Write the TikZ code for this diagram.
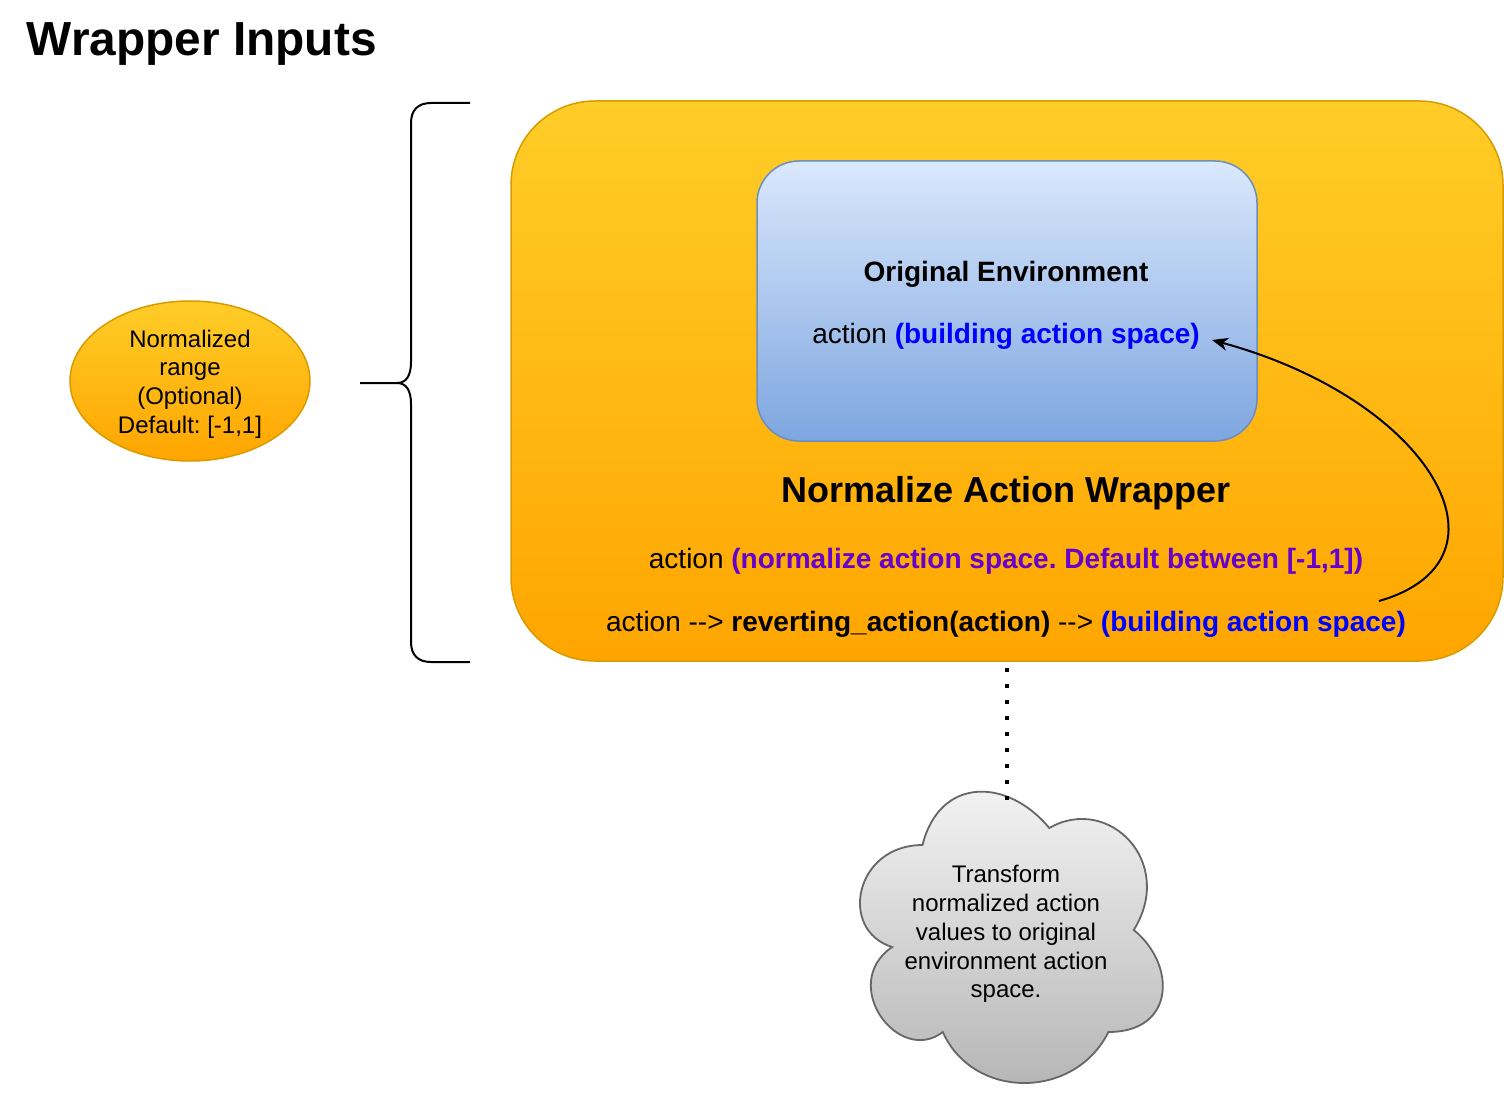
\documentclass[tikz,border=0pt]{standalone}
\usepackage{fontspec}
\setmainfont{Liberation Sans}
\usetikzlibrary{shapes.geometric,arrows.meta}
\definecolor{orTop}{HTML}{FFCD28}
\definecolor{orBot}{HTML}{FFA500}
\definecolor{orLine}{HTML}{D79B00}
\definecolor{blTop}{HTML}{DAE8FC}
\definecolor{blBot}{HTML}{7EA6E0}
\definecolor{blLine}{HTML}{6C8EBF}
\definecolor{grTop}{HTML}{F5F5F5}
\definecolor{grBot}{HTML}{B3B3B3}
\definecolor{grLine}{HTML}{666666}
\definecolor{purp}{HTML}{6600CC}
\definecolor{bluetxt}{HTML}{0000FF}
\frenchspacing
\newcommand{\fsz}[2]{\fontsize{#1}{#2}\selectfont}
\newcommand{\darrow}{-{}-{}>}
\begin{document}
\begin{tikzpicture}[x=1pt,y=-1pt,
  orangefill/.style={draw=orLine, line width=1.5pt, top color=orTop, bottom color=orBot},
  bluefill/.style={draw=blLine, line width=1.5pt, top color=blTop, bottom color=blBot},
  cloudfill/.style={draw=grLine, line width=1.8pt, top color=grTop, bottom color=grBot},
  txt/.style={inner sep=0pt, outer sep=0pt, align=center},
  bigtxt/.style={txt, font=\fsz{28}{33.6}},
  smalltxt/.style={txt, font=\fsz{24}{28.8}},
  bracestyle/.style={line width=2pt, line join=round},
  curvearrow/.style={line width=2pt, -{Stealth[length=16pt,width=13pt,inset=5pt]}},
  dotline/.style={line width=4pt, dash pattern=on 4pt off 12pt}
]
\useasboundingbox (0,0) rectangle (1504,1102);

% title
\node[txt, anchor=base west, font=\fsz{47.8}{57}\bfseries] (title) at (27,56) {Wrapper Inputs};

% optional input ellipse
\node[ellipse, orangefill, minimum width=240pt, minimum height=160pt, inner sep=0pt] (range) at (190,381) {};
\node[smalltxt] (rangetxt) at (190,384)
  {Normalized\\range\\(Optional)\\Default: [-1,1]};

% curly brace
\draw[bracestyle] (470,103) -- (431,103) .. controls (418,103) and (411,110) .. (411,123)
  -- (411,362) .. controls (411,376) and (406,383) .. (397,383) -- (360,383);
\draw[bracestyle] (397,383) .. controls (406,383) and (411,390) .. (411,404)
  -- (411,642) .. controls (411,655) and (418,662) .. (431,662) -- (470,662);

% wrapper box
\node[rectangle, orangefill, rounded corners=84pt, minimum width=992pt, minimum height=560pt, inner sep=0pt] (wrap) at (1007,381) {};

% original environment box
\node[rectangle, bluefill, rounded corners=42pt, minimum width=500pt, minimum height=280pt, inner sep=0pt] (env) at (1007,301) {};

\node[bigtxt, font=\fsz{28}{33.6}\bfseries] (envtitle) at (1006,274) {Original Environment};
\node[bigtxt] (envaction) at (1006,336) {action \textbf{\color{bluetxt}(building action space)}};

\node[txt, font=\fsz{36}{43}\bfseries] (wraptitle) at (1006,493) {Normalize Action Wrapper};
\node[bigtxt] (norm) at (1006,561) {action \textbf{\color{purp}(normalize action space. Default between [-1,1])}};
\node[bigtxt] (revert) at (1006,624) {action \darrow{} \textbf{reverting\_action(action)} \darrow{} \textbf{\color{bluetxt}(building action space)}};

% curved arrow
\coordinate (arrS) at (1379,601);
\coordinate (arrE) at (1212,340);
\draw[curvearrow] (arrS) .. controls (1522,560) and (1432,400) .. (arrE);

% cloud
\draw[cloudfill] (922.5,845)
  .. controls (854.9,845) and (838,930) .. (892.1,947)
  .. controls (838,984.4) and (898.8,1066) .. (942.8,1032)
  .. controls (973.2,1100) and (1074.6,1100) .. (1108.4,1032)
  .. controls (1176,1032) and (1176,964) .. (1133.75,930)
  .. controls (1176,862) and (1108.4,794) .. (1049.25,828)
  .. controls (1007,777) and (939.4,777) .. (922.5,845) -- cycle;
\node[smalltxt] (cloud) at (1006,934) {Transform\\normalized action\\values to original\\environment action\\space.};
\coordinate (cloudtop) at (1007,801);

% dotted connector
\coordinate (wrapbot) at (1007,668);
\draw[dotline] (wrapbot) -- (cloudtop);
\end{tikzpicture}
\end{document}
